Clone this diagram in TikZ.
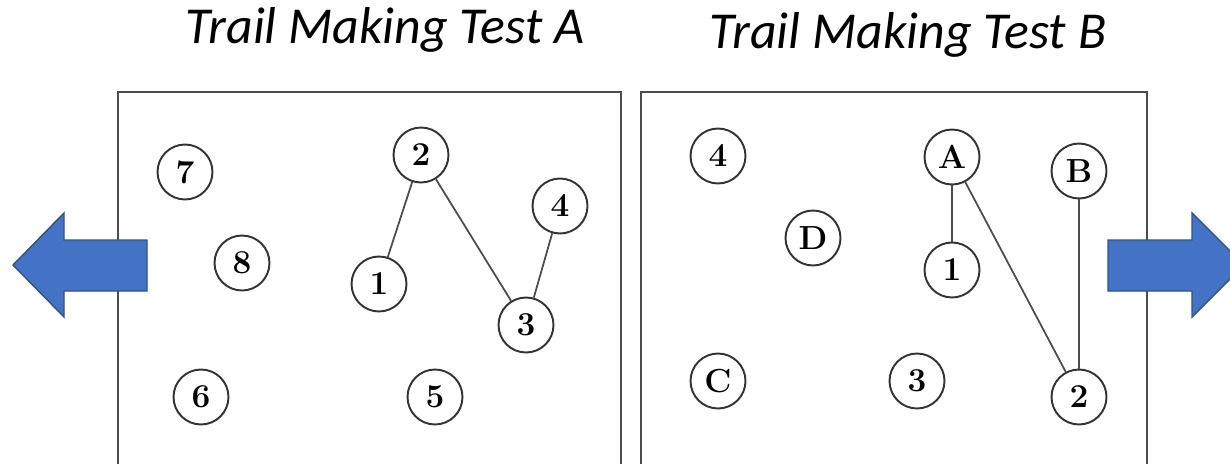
\documentclass[tikz,border=0pt]{standalone}
\usepackage{fontspec}
\newfontfamily\titlefont{Carlito}
\tikzset{
  num/.style={draw=black!80, line width=1.1pt, circle, minimum size=1.1cm, inner sep=0pt,
    font=\fontsize{19}{22}\selectfont\bfseries},
  trail/.style={draw=black!70, line width=1pt},
  frame/.style={draw=black!70, line width=1.4pt},
  blockarrow/.style={fill={rgb,255:red,68;green,114;blue,196}, draw={rgb,255:red,47;green,82;blue,143}, line width=0.8pt},
  heading/.style={font=\titlefont\itshape\fontsize{29.5}{33}\selectfont}
}
\begin{document}
\begin{tikzpicture}[x=0.02cm, y=-0.02cm]
                \useasboundingbox (0,0) rectangle (1230,463);
                \clip (0,0) rectangle (1230,463);

                \node[heading] (titleA) at (385,30) {Trail Making Test A};
                \node[heading] (titleB) at (908,35) {Trail Making Test B};

                % test A
                \draw[frame] (118,470) -- (118,92) -- (621,92) -- (621,470);
                \node[num] (a7) at (185,172) {7};
                \node[num] (a8) at (242,263) {8};
                \node[num] (a2) at (421,155) {2};
                \node[num] (a1) at (379,284) {1};
                \node[num] (a4) at (560,206) {4};
                \node[num] (a3) at (526,325) {3};
                \node[num] (a6) at (201,397) {6};
                \node[num] (a5) at (435,397) {5};
                \draw[trail] (a1) -- (a2);
                \draw[trail] (a2) -- (a3);
                \draw[trail] (a3) -- (a4);

                % test B
                \draw[frame] (641,470) -- (641,92) -- (1147,92) -- (1147,470);
                \node[num] (b4) at (718,156) {4};
                \node[num] (bA) at (952,157) {A};
                \node[num] (bB) at (1079,171) {B};
                \node[num] (bD) at (813,238) {D};
                \node[num] (b1) at (952,270) {1};
                \node[num] (bC) at (718,381) {C};
                \node[num] (b3) at (917,381) {3};
                \node[num] (b2) at (1079,397) {2};
                \draw[trail] (bA) -- (b1);
                \draw[trail] (bA) -- (b2);
                \draw[trail] (bB) -- (b2);

                % arrows
                \draw[blockarrow] (147,240) -- (64,240) -- (64,213) -- (13,265) -- (64,317) -- (64,291) -- (147,291) -- cycle;
                \draw[blockarrow] (1108,240) -- (1192,240) -- (1192,213) -- (1244,265) -- (1192,317) -- (1192,291) -- (1108,291) -- cycle;
\end{tikzpicture}
\end{document}
